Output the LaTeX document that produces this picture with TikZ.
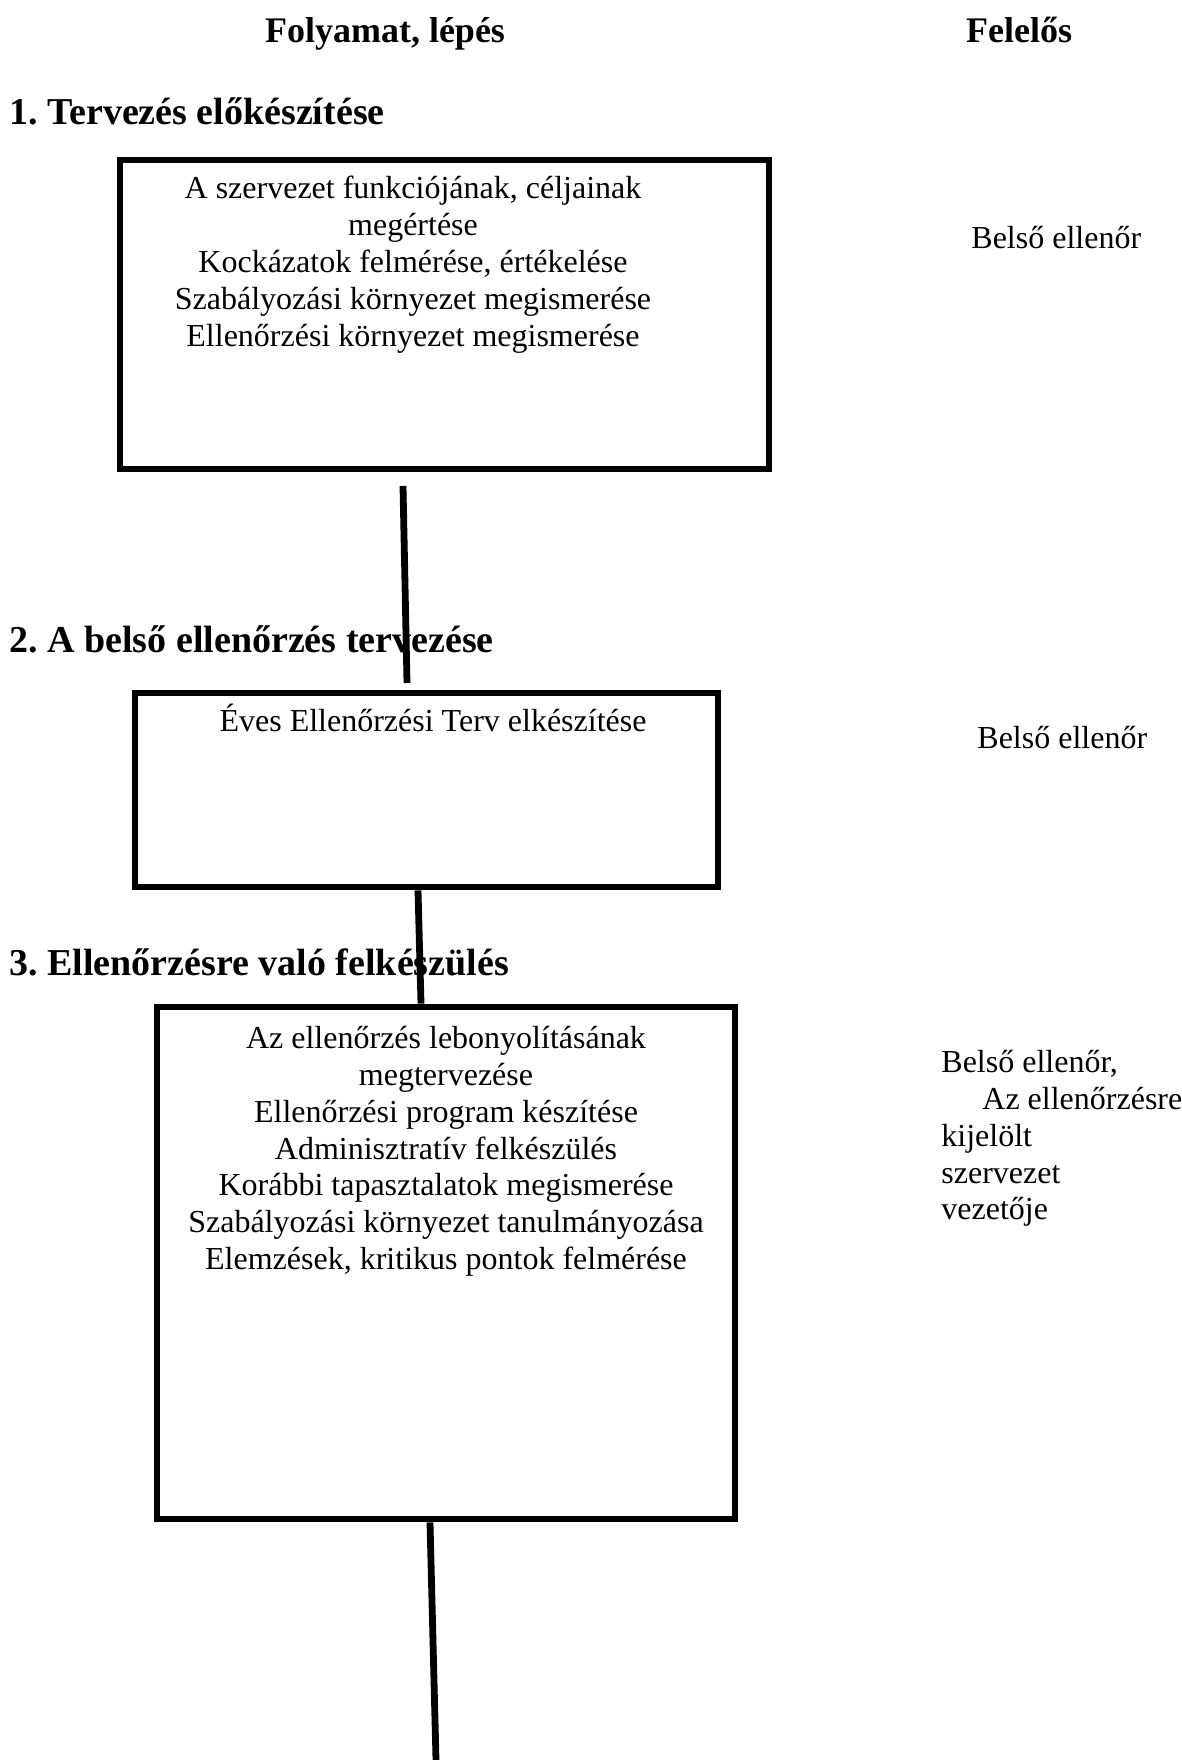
\documentclass[tikz,border=0pt]{standalone}
\usepackage{fontspec}
\setmainfont{Liberation Serif}
\usetikzlibrary{calc}
\frenchspacing
\begin{document}
\begin{tikzpicture}[x=0.5pt,y=-0.5pt,
  flowbox/.style={draw,line width=3.4pt,inner sep=0pt},
  boxtext/.style={font=\fontsize{16}{18.4}\selectfont,align=center,inner sep=0pt},
  sidetext/.style={font=\fontsize{16}{18.4}\selectfont,align=left,inner sep=0pt},
  headtext/.style={font=\fontsize{19}{22}\selectfont\bfseries,inner sep=0pt,anchor=base west},
  titletext/.style={font=\fontsize{18}{21}\selectfont\bfseries,inner sep=0pt,anchor=base},
  link/.style={line width=3.4pt}
]
\useasboundingbox (0,0) rectangle (1182,1760);

% column titles
\node[titletext] (tproc) at (385,43) {Folyamat, lépés};
\node[titletext] (tresp) at (1019,43) {Felelős};

% step 1
\node[headtext] (h1) at (9,125) {1. Tervezés előkészítése};
\node[flowbox,minimum width=324.5pt,minimum height=154.5pt] (b1) at (444.5,314.5) {};
\node[boxtext,anchor=north] (t1) at (413,176) {A szervezet funkciójának, céljainak\\megértése\\Kockázatok felmérése, értékelése\\Szabályozási környezet megismerése\\Ellenőrzési környezet megismerése};
\node[sidetext,anchor=base west] (r1) at (971,249) {Belső ellenőr};

% step 2
\node[headtext] (h2) at (9,652) {2. A belső ellenőrzés tervezése};
\node[flowbox,minimum width=291.5pt,minimum height=97pt] (b2) at (426.5,790) {};
\node[boxtext,anchor=base] (t2) at (433,731) {Éves Ellenőrzési Terv elkészítése};
\node[sidetext,anchor=base west] (r2) at (977,748) {Belső ellenőr};

% step 3
\node[headtext] (h3) at (9,975) {3. Ellenőrzésre való felkészülés};
\node[flowbox,minimum width=289pt,minimum height=256pt] (b3) at (446,1263) {};
\node[boxtext,anchor=north] (t3) at (446,1026) {Az ellenőrzés lebonyolításának\\megtervezése\\Ellenőrzési program készítése\\Adminisztratív felkészülés\\Korábbi tapasztalatok megismerése\\Szabályozási környezet tanulmányozása\\Elemzések, kritikus pontok felmérése};
\node[sidetext,anchor=north west] (r3) at (941,1050) {Belső ellenőr,\\\hspace*{20.5pt}Az ellenőrzésre\\kijelölt\\szervezet\\vezetője};

% connectors
\coordinate (c1a) at (403,486);
\coordinate (c1b) at (407,683);
\draw[link] (c1a) -- (c1b);
\draw[link] ($(b2.south)+(-8.5,0)$) -- ($(b3.north)+(-25,0)$);
\coordinate (c3b) at (436,1760);
\draw[link] ($(b3.south)+(-16,0)$) -- (c3b);
\end{tikzpicture}
\end{document}
